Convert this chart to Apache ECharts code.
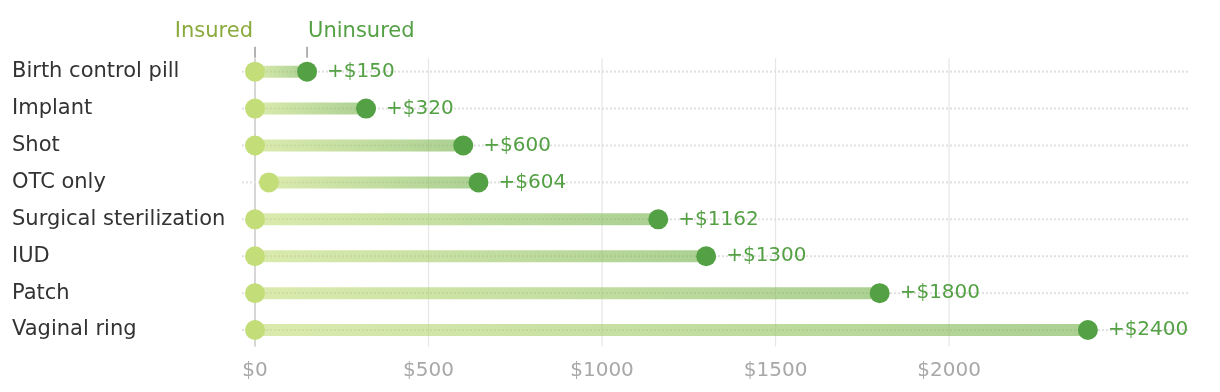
<!DOCTYPE html>
<html>
<head>
<meta charset="utf-8">
<script src="https://cdn.jsdelivr.net/npm/echarts@6/dist/echarts.min.js"></script>
<style>
html,body{margin:0;padding:0;background:#fff;}
#chart{width:1220px;height:392px;}
</style>
</head>
<body>
<div id="chart"></div>
<script>
const categories = ['Birth control pill','Implant','Shot','OTC only','Surgical sterilization','IUD','Patch','Vaginal ring'];
const insured = [0, 0, 0, 40, 0, 0, 0, 0];
const uninsured = [150, 320, 600, 644, 1162, 1300, 1800, 2400];
const differences = [150, 320, 600, 604, 1162, 1300, 1800, 2400];
const xTicks = [0, 500, 1000, 1500, 2000];
const headerLabels = ['Insured', 'Uninsured'];

const FONT = 'DejaVu Sans';
const C_INS = '#c3dd78';
const C_UNI = '#54a044';

const chart = echarts.init(document.getElementById('chart'), null, {renderer: 'canvas'});

const option = {
  animation: false,
  backgroundColor: '#fff',
  grid: {left: 255, right: 28, top: 53.2, bottom: 43.5},
  xAxis: {
    type: 'value', min: 0, max: 2700, interval: 500,
    axisLine: {show: false}, axisTick: {show: false}, splitLine: {show: false},
    axisLabel: {
      margin: 12, color: '#a8a8a8', fontSize: 20, fontFamily: FONT,
      formatter: v => xTicks.indexOf(v) >= 0 ? '$' + v : ''
    }
  },
  yAxis: {
    type: 'category', inverse: true, data: categories,
    axisLine: {show: false}, axisTick: {show: false}, splitLine: {show: false},
    axisLabel: {align: 'left', margin: 243, color: '#333', fontSize: 21, fontFamily: FONT}
  },
  series: [
    {
      type: 'custom', name: 'grid', clip: false, silent: true, z: 1,
      data: xTicks.map(v => [v]),
      encode: {x: 0},
      renderItem: function (params, api) {
        const v = api.value(0);
        const x = api.coord([v, 0])[0];
        const cs = params.coordSys;
        return {
          type: 'line',
          shape: {x1: x, y1: cs.y + 5, x2: x, y2: cs.y + cs.height - 2},
          style: {stroke: v === 0 ? '#c8c8c8' : '#e6e6e6', lineWidth: v === 0 ? 1.5 : 1.2}
        };
      }
    },
    {
      type: 'custom', name: 'rows', clip: false, silent: true, z: 2,
      data: categories.map((c, i) => [i, insured[i], uninsured[i]]),
      encode: {y: 0, x: [1, 2]},
      renderItem: function (params, api) {
        const idx = api.value(0);
        const p0 = api.coord([api.value(1), idx]);
        const p1 = api.coord([api.value(2), idx]);
        const cs = params.coordSys;
        return {
          type: 'group',
          children: [
            {
              type: 'line',
              shape: {x1: cs.x - 13, y1: p0[1], x2: cs.x + cs.width - 4, y2: p0[1]},
              style: {stroke: '#e0e0e0', lineWidth: 2, lineDash: [2, 2]}
            },
            {
              type: 'rect',
              shape: {x: p0[0], y: p0[1] - 6, width: p1[0] - p0[0], height: 12},
              style: {
                fill: new echarts.graphic.LinearGradient(0, 0, 1, 0, [
                  {offset: 0, color: 'rgba(195,221,120,0.6)'},
                  {offset: 1, color: 'rgba(120,180,80,0.62)'}
                ])
              }
            }
          ]
        };
      }
    },
    {
      type: 'custom', name: 'header', clip: false, silent: true, z: 3,
      data: [[insured[0], uninsured[0], 0]],
      encode: {x: [0, 1], y: 2},
      renderItem: function (params, api) {
        const pa = api.coord([api.value(0), api.value(2)]);
        const pb = api.coord([api.value(1), api.value(2)]);
        return {
          type: 'group',
          children: [
            {type: 'line', shape: {x1: pa[0], y1: pa[1] - 25, x2: pa[0], y2: pa[1] - 14},
             style: {stroke: '#9a9a9a', lineWidth: 1.5}},
            {type: 'line', shape: {x1: pb[0], y1: pb[1] - 25, x2: pb[0], y2: pb[1] - 14},
             style: {stroke: '#9a9a9a', lineWidth: 1.5}},
            {type: 'text', x: pa[0] - 2, y: pa[1] - 40,
             style: {text: headerLabels[0], fill: '#8aab3c', font: '21px "' + FONT + '"', align: 'right', verticalAlign: 'middle'}},
            {type: 'text', x: pb[0] + 1, y: pb[1] - 40,
             style: {text: headerLabels[1], fill: C_UNI, font: '21px "' + FONT + '"', align: 'left', verticalAlign: 'middle'}}
          ]
        };
      }
    },
    {
      type: 'scatter', name: 'Insured', z: 4, silent: true,
      symbol: 'circle', symbolSize: 20,
      itemStyle: {color: C_INS, opacity: 1},
      data: categories.map((c, i) => [insured[i], i])
    },
    {
      type: 'scatter', name: 'Uninsured', z: 5, silent: true,
      symbol: 'circle', symbolSize: 20,
      itemStyle: {color: C_UNI, opacity: 1},
      label: {
        show: true, position: 'right', distance: 10,
        color: C_UNI, fontSize: 20, fontFamily: FONT,
        formatter: p => '+$' + differences[p.dataIndex]
      },
      data: categories.map((c, i) => [uninsured[i], i])
    }
  ]
};
chart.setOption(option);
</script>
</body>
</html>
